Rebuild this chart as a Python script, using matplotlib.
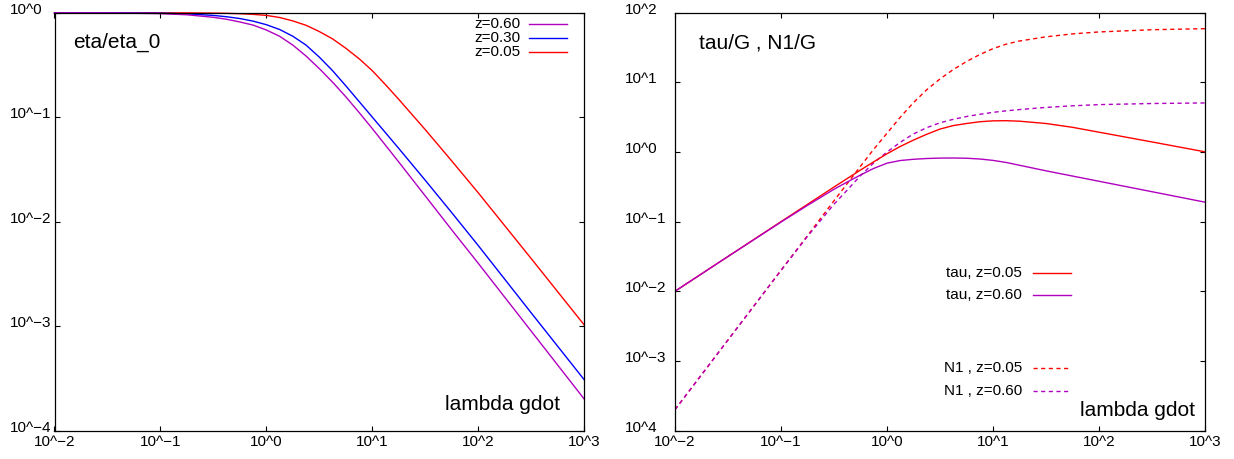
import matplotlib
matplotlib.use("Agg")
import matplotlib.pyplot as plt
import matplotlib.transforms as mtransforms
from matplotlib.ticker import FixedLocator, NullLocator

plt.rcParams['font.family'] = ['Liberation Sans', 'DejaVu Sans']

# ---------------------------------------------------------------- data
# dimensionless shear rate (lambda * gamma-dot)
lambda_gdot = [0.01, 0.0316, 0.1, 0.178, 0.316, 0.422, 0.562, 0.750,
               1.0, 1.334, 1.778, 2.371, 3.162, 4.217, 5.623, 7.499,
               10.0, 13.34, 17.78, 31.62, 56.23, 100.0, 316.2, 1000.0]

# shear viscosity eta/eta_0
eta_z005 = [1.0, 1.0, 0.999, 0.998, 0.9931, 0.9886, 0.9795, 0.9660,
            0.9441, 0.9016, 0.8356, 0.7586, 0.6607, 0.5623, 0.4571, 0.3631,
            0.2786, 0.2042, 0.1479, 0.07586, 0.03802, 0.01884, 0.004416, 0.001023]
eta_z030 = [1.0, 0.998, 0.991, 0.977, 0.944, 0.9162, 0.8810, 0.8318,
            0.7691, 0.6918, 0.5957, 0.4898, 0.3758, 0.2786, 0.1995, 0.1413,
            0.100, 0.07079, 0.05012, 0.02483, 0.01216, 0.005888, 0.001334, 0.0003055]
eta_z060 = [1.0, 0.997, 0.982, 0.9572, 0.9057, 0.8670, 0.8166, 0.7621,
            0.6839, 0.5957, 0.4898, 0.3846, 0.2917, 0.2163, 0.1567, 0.1109,
            0.07762, 0.05370, 0.03715, 0.01758, 0.008318, 0.003981, 0.0008913, 0.0001995]

# shear stress tau/G
tau_z005 = [0.01, 0.0316, 0.1, 0.1774, 0.3141, 0.4169, 0.5508, 0.7244,
            0.9441, 1.2023, 1.4859, 1.7989, 2.1380, 2.3988, 2.5704, 2.7227,
            2.8054, 2.8184, 2.7733, 2.5704, 2.2646, 1.9275, 1.3964, 1.0069]
tau_z060 = [0.01, 0.03155, 0.09863, 0.1714, 0.2917, 0.3715, 0.4677, 0.5821,
            0.6918, 0.7551, 0.7870, 0.8072, 0.8185, 0.8204, 0.8147, 0.7943,
            0.7586, 0.7079, 0.6457, 0.5370, 0.4519, 0.3802, 0.2692, 0.1905]

# first normal stress difference N1/G
n1_z005 = [0.0001995, 0.001995, 0.01995, 0.06310, 0.1995, 0.3532, 0.6237, 1.0965,
           1.8621, 3.1623, 5.1286, 7.8524, 11.220, 15.311, 19.953, 25.119,
           30.549, 35.481, 39.355, 45.186, 49.774, 53.088, 57.148, 59.156]
n1_z060 = [0.0001995, 0.001995, 0.01995, 0.06166, 0.1778, 0.2851, 0.4571, 0.6998,
           1.0, 1.3804, 1.8197, 2.2387, 2.6303, 2.9512, 3.2359, 3.4834,
           3.7154, 3.9084, 4.0738, 4.3752, 4.6132, 4.7973, 4.9774, 5.0699]

x_ticks = [1e-2, 1e-1, 1e0, 1e1, 1e2, 1e3]
x_tick_labels = ["10^\u22122", "10^\u22121", "10^0", "10^1", "10^2", "10^3"]
eta_ticks = [1e0, 1e-1, 1e-2, 1e-3, 1e-4]
eta_tick_labels = ["10^0", "10^\u22121", "10^\u22122", "10^\u22123", "10^\u22124"]
stress_ticks = [1e2, 1e1, 1e0, 1e-1, 1e-2, 1e-3, 1e-4]
stress_tick_labels = ["10^2", "10^1", "10^0", "10^\u22121", "10^\u22122", "10^\u22123", "10^4"]

# ---------------------------------------------------------------- style
RED = "#ff0000"
BLUE = "#0000ff"
PURPLE = "#b000c0"
LW = 1.0
DASH = (0, (3, 2.5))
TICK_FS = 11
TITLE_FS = 15

W, H = 1234, 459
fig = plt.figure(figsize=(W / 100, H / 100), dpi=100)

ax1 = fig.add_axes([54.5 / W, 28.5 / H, 529.8 / W, 417.7 / H])
ax2 = fig.add_axes([675.0 / W, 28.5 / H, 530.0 / W, 417.7 / H])


def frame(ax, yticks, ylabels, label_x):
    ax.set_xscale("log")
    ax.set_yscale("log")
    ax.set_xlim(1e-2, 1e3)
    ax.set_ylim(min(yticks), max(yticks))
    ax.xaxis.set_major_locator(FixedLocator(x_ticks))
    ax.xaxis.set_minor_locator(NullLocator())
    ax.yaxis.set_major_locator(FixedLocator(yticks))
    ax.yaxis.set_minor_locator(NullLocator())
    ax.set_xticklabels(x_tick_labels)
    ax.tick_params(axis="both", which="major", direction="in", length=3.6,
                   width=0.8, top=True, right=True, labelsize=TICK_FS,
                   pad=3, labelleft=False)
    for sp in ax.spines.values():
        sp.set_linewidth(0.9)
        sp.set_color("black")
    trans = (mtransforms.blended_transform_factory(ax.transAxes, ax.transData)
             + mtransforms.ScaledTranslation(0, 3 / 100, fig.dpi_scale_trans))
    for v, lab in zip(yticks, ylabels):
        ax.text(label_x, v, lab, transform=trans, ha="left", va="center",
                fontsize=TICK_FS)


def key_entry(ax, text, y, x_text, x0, x1, **style):
    ax.text(x_text, y, text, transform=ax.transAxes, ha="right", va="center",
            fontsize=TICK_FS)
    ax.plot([x0, x1], [y, y], transform=ax.transAxes, clip_on=False, **style)


# ---------------------------------------------------------------- left: viscosity
frame(ax1, eta_ticks, eta_tick_labels, -0.084)
ax1.plot(lambda_gdot, eta_z005, color=RED, lw=LW, clip_on=False)
ax1.plot(lambda_gdot, eta_z030, color=BLUE, lw=LW, clip_on=False)
ax1.plot(lambda_gdot, eta_z060, color=PURPLE, lw=LW, clip_on=False)

ax1.text(0.035, 0.928, "eta/eta_0", transform=ax1.transAxes, ha="left",
         va="center", fontsize=TITLE_FS)
ax1.text(0.954, 0.063, "lambda gdot", transform=ax1.transAxes, ha="right",
         va="center", fontsize=TITLE_FS)

key_entry(ax1, "z=0.60", 0.973, 0.879, 0.896, 0.967, color=PURPLE, lw=LW)
key_entry(ax1, "z=0.30", 0.939, 0.879, 0.896, 0.967, color=BLUE, lw=LW)
key_entry(ax1, "z=0.05", 0.906, 0.879, 0.896, 0.967, color=RED, lw=LW)

# ---------------------------------------------------------------- right: stresses
frame(ax2, stress_ticks, stress_tick_labels, -0.0943)
ax2.plot(lambda_gdot, n1_z005, color=RED, lw=LW, ls=DASH)
ax2.plot(lambda_gdot, n1_z060, color=PURPLE, lw=LW, ls=DASH)
ax2.plot(lambda_gdot, tau_z005, color=RED, lw=LW)
ax2.plot(lambda_gdot, tau_z060, color=PURPLE, lw=LW)

ax2.text(0.045, 0.928, "tau/G , N1/G", transform=ax2.transAxes, ha="left",
         va="center", fontsize=TITLE_FS)
ax2.text(0.981, 0.049, "lambda gdot", transform=ax2.transAxes, ha="right",
         va="center", fontsize=TITLE_FS)

key_entry(ax2, "tau, z=0.05", 0.376, 0.655, 0.675, 0.747, color=RED, lw=LW)
key_entry(ax2, "tau, z=0.60", 0.324, 0.655, 0.675, 0.747, color=PURPLE, lw=LW)
key_entry(ax2, "N1 , z=0.05", 0.149, 0.655, 0.675, 0.747, color=RED, lw=LW, ls=DASH)
key_entry(ax2, "N1 , z=0.60", 0.095, 0.655, 0.675, 0.747, color=PURPLE, lw=LW, ls=DASH)

fig.savefig("out.png", dpi=100)
